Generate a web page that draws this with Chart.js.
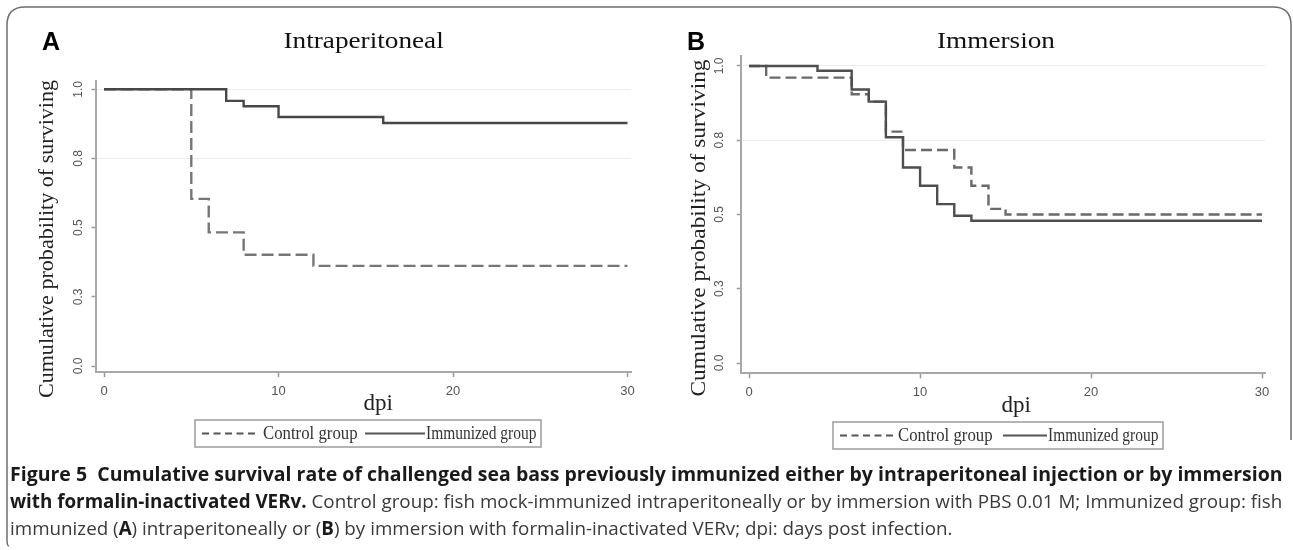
<!DOCTYPE html>
<html><head><meta charset="utf-8">
<script src="https://cdn.jsdelivr.net/npm/chart.js@4.4.1/dist/chart.umd.min.js"></script>
<style>
html,body{margin:0;padding:0;background:#fff;}
body{width:1293px;height:550px;position:relative;overflow:hidden;}
.abs{position:absolute;white-space:nowrap;line-height:1;}
canvas{position:absolute;top:0;}
svg{position:absolute;left:0;top:0;}
</style></head><body>
<canvas id="cA" width="646" height="420" style="left:0"></canvas>
<canvas id="cB" width="647" height="420" style="left:646px"></canvas>
<svg id="ov" width="1293" height="550"></svg>
<script>
// ---------------- data ----------------
const xTickValues = [0, 10, 20, 30];
const xTickLabels = ['0', '10', '20', '30'];
const yTickValues = [0, 0.25, 0.5, 0.75, 1.0];
const yTickLabels = ['0.0', '0.3', '0.5', '0.8', '1.0'];

const seriesNames = ['Control group', 'Immunized group'];

// Panel A: Intraperitoneal
const daysA_immunized = [0, 7, 8, 10, 16, 30];
const survA_immunized = [1.000, 0.958, 0.939, 0.900, 0.878, 0.878];
const daysA_control   = [0, 5, 6, 8, 12, 30];
const survA_control   = [1.000, 0.604, 0.483, 0.402, 0.362, 0.362];

// Panel B: Immersion
const daysB_immunized = [0, 4, 6, 7, 8, 9, 10, 11, 12, 13, 30];
const survB_immunized = [1.000, 0.984, 0.921, 0.880, 0.760, 0.658, 0.597, 0.535, 0.496, 0.479, 0.479];
const daysB_control   = [0, 1, 6, 7, 8, 9, 12, 13, 14, 15, 30];
const survB_control   = [1.000, 0.961, 0.905, 0.880, 0.779, 0.717, 0.658, 0.597, 0.519, 0.500, 0.500];

// ---------------- charts ----------------
Chart.defaults.animation = false;
const tickFamily = "'Liberation Sans Narrow','Liberation Sans',Arial,sans-serif";

function toXY(d, s){ return d.map((x,i)=>({x:x, y:s[i]})); }

function makeChart(id, c){
  return new Chart(document.getElementById(id), {
    type: 'line',
    data: { datasets: [
      { label: seriesNames[1], data: toXY(c.immD, c.immS), borderColor: c.solidColor, borderWidth: 2.4,
        stepped: 'before', pointRadius: 0, fill: false, tension: 0 },
      { label: seriesNames[0], data: toXY(c.ctlD, c.ctlS), borderColor: c.dashColor, borderWidth: 2.4,
        borderDash: c.dash, stepped: 'before', pointRadius: 0, fill: false, tension: 0 }
    ]},
    options: {
      responsive: false, animation: false, events: [],
      layout: { padding: { top: c.top, right: c.padR, bottom: 0, left: 0 } },
      plugins: { legend: { display: false }, tooltip: { enabled: false }, title: { display: false } },
      scales: {
        x: {
          type: 'linear', min: -0.49, max: 30.2,
          afterBuildTicks: s => { s.ticks = xTickValues.map(v => ({value: v})); },
          afterFit: s => { s.height = c.xAxisH; },
          ticks: { callback: (v, i) => xTickLabels[i], font: {family: tickFamily, size: 13}, color: '#555',
                   padding: c.xPad, maxRotation: 0, minRotation: 0, autoSkip: false },
          grid: { drawOnChartArea: false, tickLength: 5, tickColor: '#9a9a9a', tickWidth: 1.5 },
          border: { color: '#a8a8a8', width: 2 }
        },
        y: {
          type: 'linear', min: c.ymin, max: c.ymax,
          afterBuildTicks: s => { s.ticks = yTickValues.map(v => ({value: v})); },
          afterFit: s => { s.width = c.left; },
          ticks: { callback: (v, i) => yTickLabels[i], font: {family: tickFamily, size: 12}, color: '#555',
                   padding: c.yPad, minRotation: 90, maxRotation: 90, crossAlign: 'center', autoSkip: false },
          grid: { color: ctx => (ctx.tick && ctx.tick.value >= 0.75) ? '#ededed' : 'rgba(0,0,0,0)',
                  lineWidth: 1, tickLength: 4, tickColor: '#9a9a9a', tickWidth: 1.5 },
          border: { color: '#a8a8a8', width: 2 }
        }
      }
    }
  });
}

makeChart('cA', { immD: daysA_immunized, immS: survA_immunized, ctlD: daysA_control, ctlS: survA_control,
  solidColor: '#474747', dashColor: '#767676', dash: [12, 5],
  top: 81, padR: 15, left: 95.5, xAxisH: 47.9, ymin: -0.022, ymax: 1.03, xPad: 7, yPad: 4 });

makeChart('cB', { immD: daysB_immunized, immS: survB_immunized, ctlD: daysB_control, ctlS: survB_control,
  solidColor: '#4e4e4e', dashColor: '#6a6a6a', dash: [11, 5],
  top: 55.6, padR: 27.5, left: 94.7, xAxisH: 46.6, ymin: -0.035, ymax: 1.035, xPad: 6.5, yPad: 9 });

// ---------------- text ----------------
const SERIF = "'Liberation Serif','Times New Roman',serif";
const SANS  = "'Open Sans','Liberation Sans',sans-serif";
function label(html, o){
  const el = document.createElement('div');
  el.className = 'abs';
  el.innerHTML = html;
  el.style.font = o.font;
  el.style.color = o.color || '#111';
  document.body.appendChild(el);
  const nw = el.offsetWidth, nh = el.offsetHeight;
  const s = o.s ? o.s : (o.w ? o.w / nw : 1);
  if (o.anchor === 'left') {
    el.style.left = o.x + 'px'; el.style.transformOrigin = '0 50%';
  } else {
    el.style.left = (o.x - nw/2) + 'px'; el.style.transformOrigin = '50% 50%';
  }
  el.style.top = (o.y - nh/2) + 'px';
  el.style.transform = (o.rot ? 'rotate(' + o.rot + 'deg) ' : '') + 'scaleX(' + s + ')';
  return s;
}

// panel letters & titles
label('A', {x: 51, y: 41, font: "bold 25px 'Liberation Sans',Arial,sans-serif", color: '#000'});
label('B', {x: 696, y: 41, font: "bold 25px 'Liberation Sans',Arial,sans-serif", color: '#000'});
label('Intraperitoneal', {x: 363, y: 40, w: 160, font: '24px ' + SERIF, color: '#111'});
label('Immersion', {x: 996, y: 40, w: 118, font: '24px ' + SERIF, color: '#111'});

// axis titles
label('Cumulative probability of surviving', {x: 45, y: 239, w: 318, rot: -90, font: '22px ' + SERIF, color: '#222'});
label('Cumulative probability of surviving', {x: 697, y: 228, w: 337, rot: -90, font: '22px ' + SERIF, color: '#222'});
label('dpi', {x: 378, y: 403, font: '23px ' + SERIF, color: '#222'});
label('dpi', {x: 1016, y: 405, font: '23px ' + SERIF, color: '#222'});

// legends text
label(seriesNames[0], {x: 263, y: 433, w: 95, anchor: 'left', font: '18px ' + SERIF, color: '#333'});
label(seriesNames[1], {x: 426, y: 433, w: 110, anchor: 'left', font: '18px ' + SERIF, color: '#333'});
label(seriesNames[0], {x: 898, y: 435, w: 95, anchor: 'left', font: '18px ' + SERIF, color: '#333'});
label(seriesNames[1], {x: 1048, y: 435, w: 110, anchor: 'left', font: '18px ' + SERIF, color: '#333'});

// caption
label('Figure 5&nbsp;&nbsp;Cumulative survival rate of challenged sea bass previously immunized either by intraperitoneal injection or by immersion',
  {x: 10, y: 474, w: 1273, anchor: 'left', font: 'bold 19px ' + SANS, color: '#1a1a1a'});
const capScale = label('<b style="color:#1a1a1a">with formalin-inactivated VERv.</b> Control group: fish mock-immunized intraperitoneally or by immersion with PBS 0.01 M; Immunized group: fish',
  {x: 10, y: 501, w: 1272, anchor: 'left', font: '19px ' + SANS, color: '#3a3a3a'});
label('immunized (<b style="color:#1a1a1a">A</b>) intraperitoneally or (<b style="color:#1a1a1a">B</b>) by immersion with formalin-inactivated VERv; dpi: days post infection.',
  {x: 10, y: 528, s: capScale, anchor: 'left', font: '19px ' + SANS, color: '#3a3a3a'});

// ---------------- frame & legend boxes (svg) ----------------
const NS = 'http://www.w3.org/2000/svg';
const ov = document.getElementById('ov');
function svgEl(tag, attrs){ const e = document.createElementNS(NS, tag); for (const k in attrs) e.setAttribute(k, attrs[k]); ov.appendChild(e); return e; }
svgEl('path', {d: 'M 9 546 Q 7 546 7 540 L 7 25 Q 7 7 25 7 L 1273 7 Q 1291 7 1291 25 L 1291 440',
  fill: 'none', stroke: '#6f6f6f', 'stroke-width': 1.5});
// legend A
svgEl('rect', {x: 195, y: 420, width: 346, height: 27, fill: 'none', stroke: '#9c9c9c', 'stroke-width': 1.5});
svgEl('line', {x1: 202, y1: 433.5, x2: 257, y2: 433.5, stroke: '#555', 'stroke-width': 2, 'stroke-dasharray': '7 4.5'});
svgEl('line', {x1: 365, y1: 433.5, x2: 425, y2: 433.5, stroke: '#555', 'stroke-width': 2});
// legend B
svgEl('rect', {x: 833, y: 422, width: 330, height: 27, fill: 'none', stroke: '#9c9c9c', 'stroke-width': 1.5});
svgEl('line', {x1: 840, y1: 435.5, x2: 895, y2: 435.5, stroke: '#555', 'stroke-width': 2, 'stroke-dasharray': '7 4.5'});
svgEl('line', {x1: 1003, y1: 435.5, x2: 1047, y2: 435.5, stroke: '#555', 'stroke-width': 2});
</script>
</body></html>
